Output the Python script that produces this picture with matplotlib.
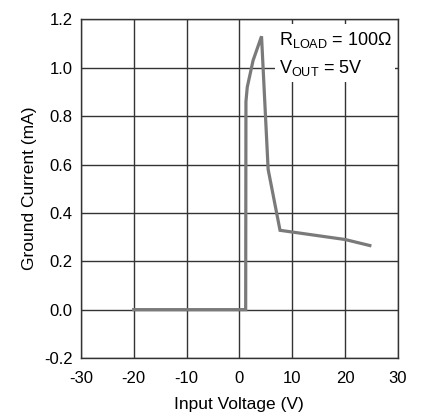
import matplotlib
matplotlib.use("Agg")
import matplotlib.pyplot as plt
from matplotlib.patches import Rectangle

plt.rcParams['font.family'] = ['Liberation Sans', 'DejaVu Sans']
plt.rcParams['mathtext.fontset'] = 'custom'
plt.rcParams['mathtext.rm'] = 'Liberation Sans'

# curve
vin = [-20, 1.2, 1.25, 1.5, 1.7, 2.6, 4.2, 5.45, 7.7, 20, 24.7]
ignd = [0.0, 0.0, 0.86, 0.92, 0.94, 1.03, 1.13, 0.58, 0.328, 0.29, 0.265]

xticks = [-30, -20, -10, 0, 10, 20, 30]
yticks = [-0.2, 0.0, 0.2, 0.4, 0.6, 0.8, 1.0, 1.2]

fig = plt.figure(figsize=(4.21, 4.12), dpi=100)
ax = fig.add_axes([0.192, 0.131, 0.753, 0.822])

ax.plot(vin, ignd, color='#7a7a7a', linewidth=2.3, solid_joinstyle='miter', zorder=3)

ax.set_xlim(-30, 30)
ax.set_ylim(-0.2, 1.2)
ax.set_xticks(xticks)
ax.set_yticks(yticks)
ax.set_xticklabels([str(t) for t in xticks])
ax.set_yticklabels(['%.1f' % t for t in yticks])
ax.grid(True, color='#333333', linewidth=1.0)
ax.tick_params(length=0, labelsize=12)
ax.tick_params(axis='x', pad=9)
ax.tick_params(axis='y', pad=6)
for s in ax.spines.values():
    s.set_color('#333333')
    s.set_linewidth(1.0)

ax.set_xlabel('Input Voltage (V)', fontsize=12.5, labelpad=8)
ax.set_ylabel('Ground Current (mA)', fontsize=12.5, labelpad=5)

# white patch behind the note
ax.add_patch(Rectangle((6.7, 0.94), 22.8, 0.24, facecolor='white',
                       edgecolor='none', zorder=2.6))
ax.text(7.5, 1.095, r'$\mathregular{R_{LOAD}}$ = 100Ω', fontsize=13,
        va='baseline', ha='left', zorder=4)
ax.text(7.5, 0.979, r'$\mathregular{V_{OUT}}$ = 5V', fontsize=13,
        va='baseline', ha='left', zorder=4)

fig.savefig('out.png', dpi=100)
